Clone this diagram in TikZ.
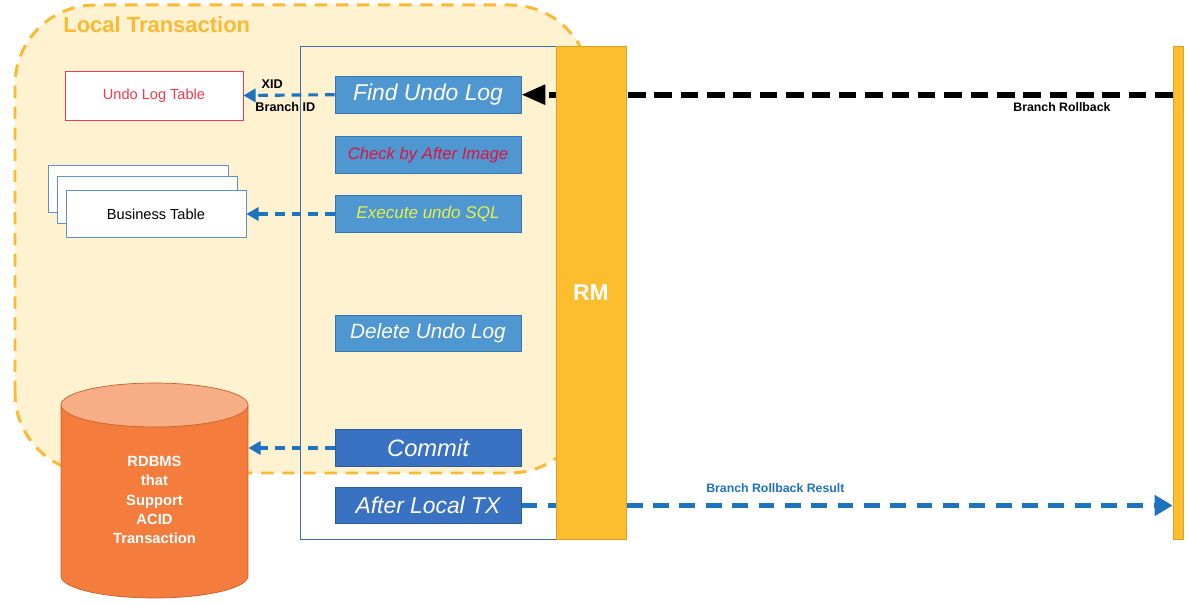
\documentclass[tikz,border=0pt]{standalone}
\usepackage{fontspec}
\setmainfont{Liberation Sans}
\usepackage{tikz}
\usetikzlibrary{positioning, arrows.meta, calc}

\definecolor{ltfill}{HTML}{FFF2D0}
\definecolor{ltedge}{HTML}{FBB934}
\definecolor{rmfill}{HTML}{FDBE2E}
\definecolor{rmedge}{HTML}{D9A02A}
\definecolor{stepfill}{HTML}{4F97D0}
\definecolor{stepedge}{HTML}{3A74AC}
\definecolor{txfill}{HTML}{3A72C3}
\definecolor{txedge}{HTML}{2D5A99}
\definecolor{flowblue}{HTML}{1E73BE}
\definecolor{boxblue}{HTML}{5F8FD0}
\definecolor{innerblue}{HTML}{3F6DA8}
\definecolor{undored}{HTML}{F0384F}
\definecolor{checkred}{HTML}{E0123F}
\definecolor{execyellow}{HTML}{E6F24A}
\definecolor{dbbody}{HTML}{F47C3C}
\definecolor{dbtop}{HTML}{F7AD85}
\definecolor{dbedge}{HTML}{C9602A}

\pgfdeclarelayer{bg}
\pgfsetlayers{bg,main}

\begin{document}
\begin{tikzpicture}[x=0.02cm, y=0.02cm,
	stepbox/.style={draw=stepedge, fill=stepfill, minimum width=3.72cm, minimum height=0.73cm, inner sep=0pt, text=white, font=\itshape\fontsize{13}{15}\selectfont},
	txbox/.style={stepbox, draw=txedge, fill=txfill},
	tablebox/.style={draw=boxblue, fill=white, minimum width=3.6cm, minimum height=0.94cm, inner sep=0pt, font=\fontsize{8.3}{10}\selectfont},
	bar/.style={draw=rmedge, fill=rmfill, minimum width=1.4cm, minimum height=9.86cm, inner sep=0pt},
	flow/.style={flowblue, line width=1.8pt, dash pattern=on 5.5pt off 4pt, -{Triangle[length=7pt, width=7.5pt]}},
	lbl/.style={text=black, font=\bfseries\fontsize{7.2}{9}\selectfont, inner sep=1pt}]
	\useasboundingbox (0,0) rectangle (1189,605);

	% RM side
	\draw[innerblue] (300,66) rectangle (556,559);
	\node[bar, text=white, font=\bfseries\fontsize{13}{15}\selectfont] (rm) at (591,312.5) {RM};
	\node[bar, minimum width=0.2cm] (tc) at (1178,312.5) {};

	\node[stepbox] (find) at (428,510.3) {Find Undo Log};
	\node[stepbox, text=checkred, font=\itshape\fontsize{9.5}{11}\selectfont] (check) at (428,450) {Check by After Image};
	\node[stepbox, text=execyellow, font=\itshape\fontsize{9.7}{11}\selectfont] (exec) at (428,391) {Execute undo SQL};
	\node[stepbox, font=\itshape\fontsize{11.8}{14}\selectfont] (del) at (428,271.5) {Delete Undo Log};
	\node[txbox, font=\itshape\fontsize{13.5}{15}\selectfont] (cmt) at (428,157) {Commit};
	\node[txbox] (after) at (428,99.5) {After Local TX};

	% tables and database
	\node[tablebox, draw=undored, text=undored, minimum width=3.56cm, minimum height=0.98cm] (undo) at (154,509.5) {Undo Log Table};
	\node[tablebox] (bizback) at (138,416) {};
	\node[tablebox] (bizmid) at (147,405) {};
	\node[tablebox] (biz) at (156,391) {Business Table};

	\filldraw[fill=dbbody, draw=dbedge] (61,200) -- (61,29) arc[start angle=180, end angle=360, x radius=1.87cm, y radius=0.44cm] -- (248,200) -- cycle;
	\filldraw[fill=dbtop, draw=dbedge] (154.5,200) ellipse[x radius=1.87cm, y radius=0.44cm];
	\node[text=white, align=center, minimum width=3.74cm, font=\bfseries\fontsize{8.4}{11}\selectfont] (db) at (154.5,105) {RDBMS\\that\\Support\\ACID\\Transaction};

	\begin{pgfonlayer}{bg}
		\filldraw[fill=ltfill, draw=ltedge, line width=1.7pt, dash pattern=on 7pt off 5pt, rounded corners=1.6cm] (15,132) rectangle (590,600);
		\draw[flow] (find.west) -- (undo.east)
			node[lbl, pos=0.685, above=2pt] {XID}
			node[lbl, pos=0.54, below=2pt] {Branch ID};
		\draw[flow] (exec.west) -- (biz.east);
		\draw[flow] (cmt.west) -- (cmt.west -| db.east);
		\draw[black, line width=3.2pt, dash pattern=on 10pt off 5pt, -{Triangle[length=0.48cm, width=0.38cm]}] (tc.west |- find) -- (find.east)
			node[lbl, pos=0.17, below=2pt, font=\bfseries\fontsize{7}{9}\selectfont] {Branch Rollback};
		\draw[flowblue, line width=2.6pt, dash pattern=on 9pt off 6pt, -{Triangle[length=0.36cm, width=0.4cm]}] (after.east) -- (tc.west |- after)
			node[lbl, text=flowblue, pos=0.39, above=5pt, font=\bfseries\fontsize{7}{9}\selectfont] {Branch Rollback Result};
	\end{pgfonlayer}

	\node[anchor=west, inner sep=0pt, text=ltedge, font=\bfseries\fontsize{12.5}{15}\selectfont] (lttitle) at (63,580) {Local Transaction};
\end{tikzpicture}
\end{document}
